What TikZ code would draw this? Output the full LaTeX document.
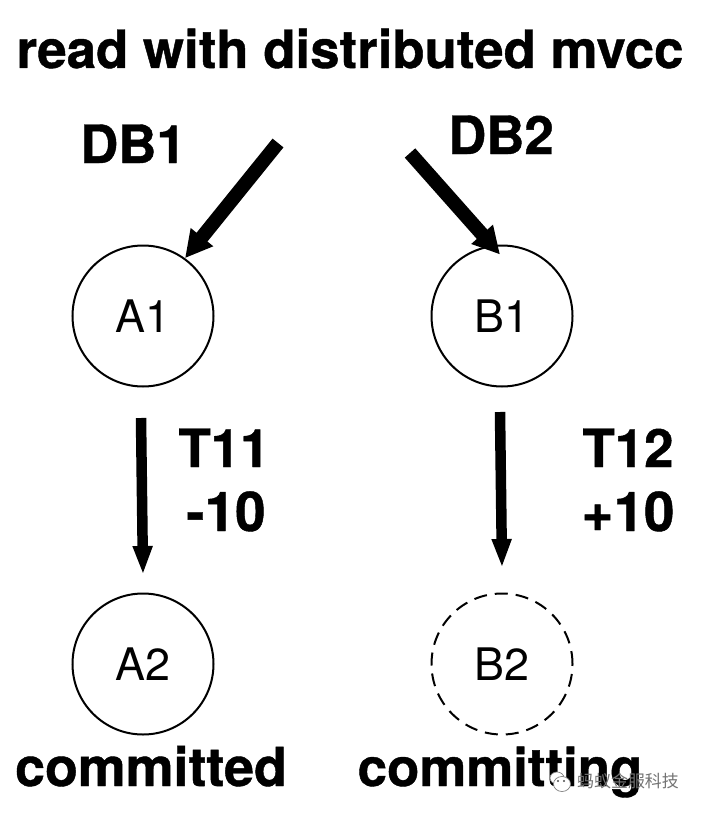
\documentclass[tikz,border=0pt]{standalone}
\usepackage{fontspec}
\setmainfont[BoldFeatures={FakeBold=0.8}]{TeX Gyre Heros}
\newfontfamily\cjk{Noto Sans CJK SC}
\usetikzlibrary{arrows.meta}
\tikzset{
  state/.style={circle,draw=black,line width=2bp,minimum size=141bp,inner sep=0pt,font=\fontsize{45}{45}\selectfont},
  brokenline/.style={dash pattern=on 13bp off 8bp},
  heading/.style={font=\fontsize{53}{53}\selectfont\bfseries,inner sep=0pt,anchor=base},
  amount/.style={heading,font=\fontsize{55}{55}\selectfont\bfseries},
  statusline/.style={heading,font=\fontsize{54}{54}\selectfont\bfseries},
  fat/.style={line width=14bp,-{Triangle[length=27bp,width=27bp]}},
  slim/.style={line width=10.5bp,-{Triangle[length=29bp,width=18bp]}}
}
\begin{document}
\begin{tikzpicture}[x=1bp,y=-1bp]
\useasboundingbox (0,0) rectangle (701,813);
\node[heading] (title) at (350,68) {read with distributed mvcc};
\node[heading] (db1) at (133,163) {DB1};
\node[heading] (db2) at (501,154) {DB2};
\node[state] (a1) at (143,316) {A1};
\node[state] (b1) at (502,316) {B1};
\node[state] (a2) at (143,664) {A2};
\node[state,brokenline] (b2) at (502,664) {B2};
\node[heading] (t11) at (224,467) {T11};
\node[amount] (m10) at (226,531) {-10};
\node[heading] (t12) at (628,467) {T12};
\node[amount] (p10) at (628,531) {+10};
\node[statusline] (c1) at (151,786) {committed};
\node[heading] (c2) at (500,786) {committing};
% free ends of the arrows
\coordinate (s1) at (278,143);
\coordinate (s2) at (410,153);
\coordinate (s3) at (141,418);
\coordinate (e3) at (143,575);
\coordinate (s4) at (500,412);
\coordinate (e4) at (502,568);
\draw[fat] (s1) -- (a1.54);
\draw[fat] (s2) -- ([xshift=-2bp,yshift=-10bp]b1.north);
\draw[slim] (s3) -- (e3);
\draw[slim] (s4) -- (e4);
% watermark: two speech bubbles and caption
\draw[black!50,line width=.7bp,fill=white] (557,778) ellipse (7bp and 6bp);
\draw[black!50,line width=.7bp,fill=white] (562,784) ellipse (8.5bp and 7.5bp);
\fill[black!70] (558,781) circle (1.2bp) (564,781) circle (1.2bp);
\node[font=\cjk\fontsize{17}{17}\selectfont,text=black!55,inner sep=0pt] (wm) at (628,781) {蚂蚁金服科技};
\end{tikzpicture}
\end{document}
